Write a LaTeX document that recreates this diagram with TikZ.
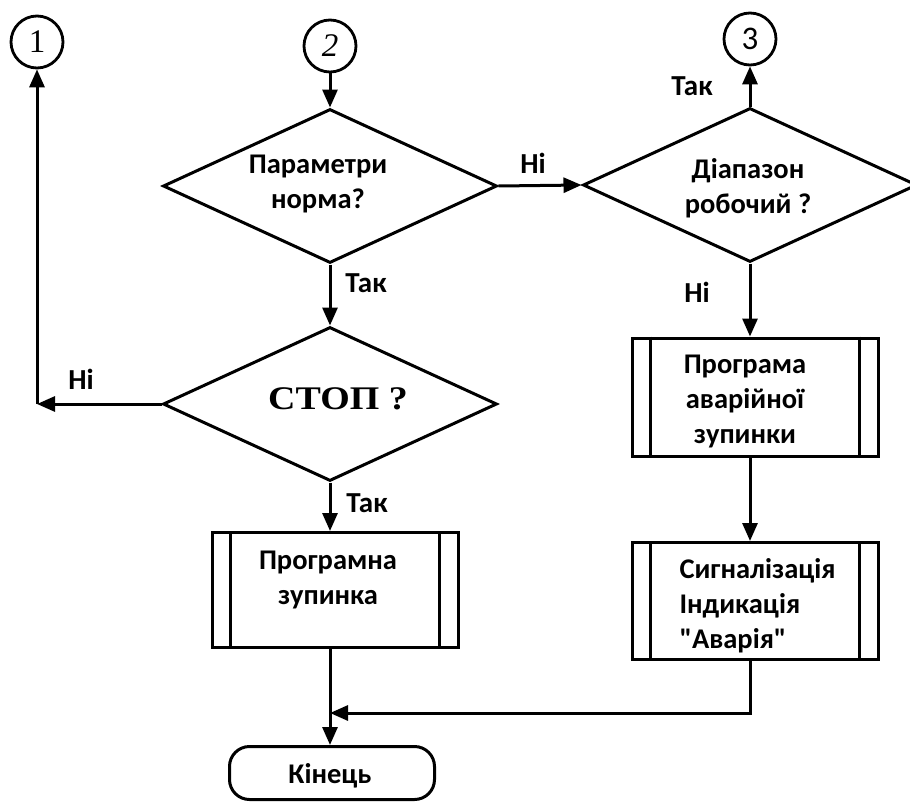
\documentclass[tikz,border=0pt]{standalone}
\usepackage{fontspec}
\usepackage{graphicx}
\setmainfont{Carlito}[Ligatures=TeXOff]
\newfontfamily\serifrm{Liberation Serif}
\usetikzlibrary{shapes.geometric,arrows.meta}
\begin{document}
\begin{tikzpicture}[x=1pt,y=-1pt,
  arr/.style={line width=3pt,-{Triangle[length=18pt,width=15pt]}},
  decision/.style={draw,line width=3pt,diamond,inner sep=0pt,minimum width=334pt,minimum height=154pt},
  proc/.style={draw,line width=3pt,rectangle,inner sep=0pt,minimum width=246pt},
  conn/.style={draw,line width=2.8pt,circle,inner sep=0pt,minimum size=52pt,font=\fontsize{33}{35}\selectfont},
  txt/.style={font=\fontsize{28.5}{35}\selectfont\bfseries,align=center},
  lbl/.style={font=\fontsize{29}{30}\selectfont\bfseries},
  term/.style={draw,line width=3pt,rounded corners=20pt,minimum width=205pt,minimum height=53pt,inner sep=0pt}
]
\useasboundingbox (0,0) rectangle (910,803);

% connectors
\node[conn] (c1) at (37,42) {\serifrm 1};
\node[conn] (c2) at (330,46) {\serifrm\itshape 2};
\node[conn] (c3) at (750,39) {3};

% decisions
\node[decision] (d1) at (330,186) {};
\node[txt] (t1) at (318,184) {Параметри\\норма?};
\node[decision] (d2) at (750,185) {};
\node[txt] (t2) at (748,188) {Діапазон\\робочий ?};
\node[decision] (d3) at (330,404) {};
\node[font=\serifrm\bfseries\fontsize{33}{35}\selectfont] (t3) at (338,399) {\scalebox{1.15}[1]{СТОП ?}};

% predefined processes
\node[proc,minimum height=115pt] (p1) at (335,590) {};
\node[txt] (t4) at (328,580) {Програмна\\зупинка};
\node[proc,minimum height=118pt] (p2) at (755,397) {};
\node[txt] (t5) at (745,401) {Програма\\аварійної\\зупинки};
\node[proc,minimum height=117pt] (p3) at (755,601) {};
\node[txt,align=left,anchor=west] (t6) at (676,606) {Сигналізація\\Індикація\\"Аварія"};
\foreach \p in {p1,p2,p3}{
  \draw[line width=3pt] ([xshift=20pt]\p.north west) -- ([xshift=20pt]\p.south west);
  \draw[line width=3pt] ([xshift=-20pt]\p.north east) -- ([xshift=-20pt]\p.south east);
}

% terminator
\node[term] (e) at (332,773) {};
\node[txt] (t7) at (330,776) {Кінець};

% flow lines
\coordinate (k1) at (37,404);
\coordinate (m1) at (330,713);
\draw[arr] (c2) -- (d1.north);
\draw[arr] (d1.east) -- (d2.west);
\draw[arr] (d2.north) -- (c3);
\draw[arr] (d1.south) -- (d3.north);
\draw[arr] (d3.west) -- (k1);
\draw[arr] (k1) -- (c1);
\draw[arr] (d3.south) -- (d3.south |- p1.north);
\draw[arr] (d2.south) -- (d2.south |- p2.north);
\draw[arr] (d2.south |- p2.south) -- (d2.south |- p3.north);
\draw[arr] (d3.south |- p1.south) -- (d3.south |- e.north);
\draw[arr] (d2.south |- p3.south) |- (m1);

% branch labels
\node[lbl] at (533,163) {Ні};
\node[lbl] at (692,86) {Так};
\node[lbl] at (366,283) {Так};
\node[lbl] at (81,379) {Ні};
\node[lbl] at (367,503) {Так};
\node[lbl] at (697,292) {Ні};
\end{tikzpicture}
\end{document}
